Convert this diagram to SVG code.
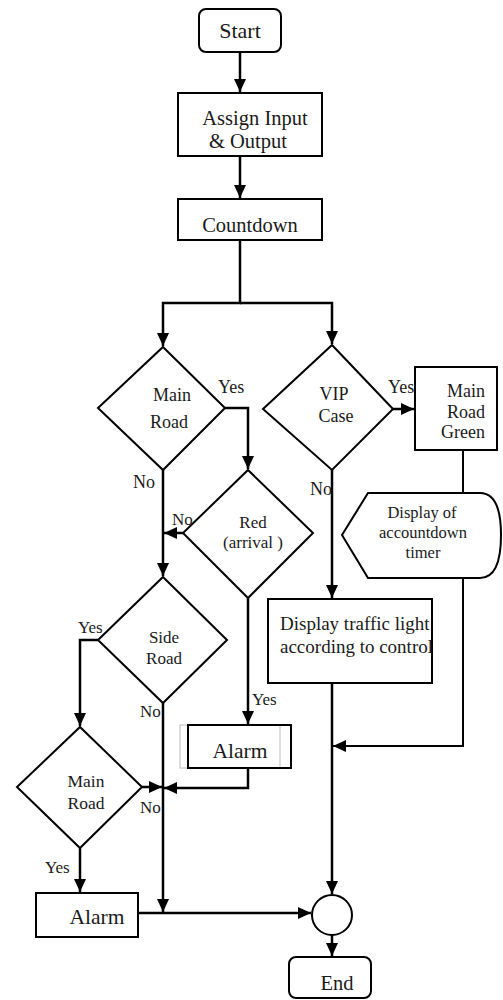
<svg xmlns="http://www.w3.org/2000/svg" width="503" height="1000" viewBox="0 0 503 1000" font-family="'Liberation Serif', Tinos, 'Times New Roman', serif">
<defs>
<marker id="ah" markerUnits="userSpaceOnUse" markerWidth="14" markerHeight="14" viewBox="0 0 14 14" refX="13" refY="7" orient="auto">
<path d="M0,1 L13,7 L0,13 Z" fill="#000"/>
</marker>
</defs>
<style>
.shape{fill:#fff;stroke:#000;stroke-width:2}
.conn{fill:none;stroke:#000;stroke-width:2.5}
.line{fill:none;stroke:#000;stroke-width:2}
text{font-family:'Liberation Serif',Tinos,'Times New Roman',serif;fill:#1a1a1a;font-size:18px}
.c{text-anchor:middle}
.e{text-anchor:end}
</style>
<rect width="503" height="1000" fill="#fff"/>
<g id="connectors">
<path class="conn" d="M240,52 V92" marker-end="url(#ah)"/>
<path class="conn" d="M240,156 V198" marker-end="url(#ah)"/>
<path class="conn" d="M240,240 V303 H163 V346" marker-end="url(#ah)"/>
<path class="conn" d="M240,303 H332 V344" marker-end="url(#ah)"/>
<path class="conn" d="M225,408 H248 V469" marker-end="url(#ah)"/>
<path class="conn" d="M163,470 V576" marker-end="url(#ah)"/>
<path class="conn" d="M183,533 H164" marker-end="url(#ah)"/>
<path class="conn" d="M248,598 V724" marker-end="url(#ah)"/>
<path class="conn" d="M98,640 H80 V726" marker-end="url(#ah)"/>
<path class="conn" d="M163,703 V912" marker-end="url(#ah)"/>
<path class="conn" d="M248,768 V788 H164" marker-end="url(#ah)"/>
<path class="conn" d="M142,787 H162" marker-end="url(#ah)"/>
<path class="conn" d="M80,848 V892" marker-end="url(#ah)"/>
<path class="conn" d="M138,913 H311" marker-end="url(#ah)"/>
<path class="conn" d="M393,409 H414" marker-end="url(#ah)"/>
<path class="conn" d="M332,470 V598" marker-end="url(#ah)"/>
<path class="conn" d="M332,683 V894" marker-end="url(#ah)"/>
<path class="line" d="M463,450 V493"/>
<path class="line" d="M463,578 V746 H333" marker-end="url(#ah)"/>
<path class="conn" d="M332,935 V956" marker-end="url(#ah)"/>
</g>
<g id="start">
<rect class="shape" x="199" y="9" width="82" height="43" rx="7"/>
<text class="c" x="240" y="38" style="font-size:22px">Start</text>
</g>
<g id="assign">
<rect class="shape" x="178" y="93" width="144" height="63"/>
<text class="c" x="255" y="125" style="font-size:20.5px">Assign Input</text>
<text class="c" x="248" y="148" style="font-size:20.5px">&amp; Output</text>
</g>
<g id="countdown">
<rect class="shape" x="178" y="199" width="144" height="41"/>
<text class="c" x="250" y="232" style="font-size:20.5px">Countdown</text>
</g>
<g id="main-road-1">
<path class="shape" d="M163,347 L225,408 L163,470 L98,408 Z"/>
<text class="c" x="172" y="401">Main</text>
<text class="c" x="169" y="428">Road</text>
<text x="218" y="393">Yes</text>
<text x="133" y="488">No</text>
</g>
<g id="vip-case">
<path class="shape" d="M332,345 L393,409 L332,470 L263,409 Z"/>
<text class="c" x="334" y="400">VIP</text>
<text class="c" x="336" y="422">Case</text>
<text x="388" y="393">Yes</text>
<text x="310" y="495">No</text>
</g>
<g id="main-road-green">
<rect class="shape" x="415" y="367" width="82" height="83"/>
<text class="e" x="485" y="397">Main</text>
<text class="e" x="485" y="418">Road</text>
<text class="e" x="485" y="438">Green</text>
</g>
<g id="display-timer">
<path class="shape" d="M368,493 H480 C497,493 501,515 501,535 C501,556 497,578 480,578 H368 L342,535 Z"/>
<text class="c" x="422" y="518" style="font-size:16.5px">Display of</text>
<text class="c" x="423" y="538" style="font-size:16.5px">accountdown</text>
<text class="c" x="423" y="558" style="font-size:16.5px">timer</text>
</g>
<g id="red-arrival">
<path class="shape" d="M248,470 L313,533 L248,598 L183,533 Z"/>
<text class="c" x="253" y="528" style="font-size:17px">Red</text>
<text class="c" x="253" y="548" style="font-size:17px">(arrival )</text>
<text x="172" y="525" style="font-size:17px">No</text>
<text x="252" y="705" style="font-size:17px">Yes</text>
</g>
<g id="display-traffic">
<rect class="shape" x="268" y="599" width="164" height="84"/>
<text x="280" y="630" style="font-size:19px">Display traffic light</text>
<text x="280" y="653" style="font-size:19px">according to control</text>
</g>
<g id="side-road">
<path class="shape" d="M163,577 L227,640 L163,703 L98,640 Z"/>
<text class="c" x="164" y="643" style="font-size:17px">Side</text>
<text class="c" x="164" y="664" style="font-size:17px">Road</text>
<text x="78" y="633" style="font-size:17px">Yes</text>
<text x="140" y="717" style="font-size:17px">No</text>
</g>
<g id="alarm-1">
<rect x="180" y="725" width="111" height="43" fill="#fff" stroke="#bbb" stroke-width="1"/>
<line x1="280" y1="725" x2="280" y2="768" stroke="#bbb" stroke-width="1"/>
<rect x="188" y="725" width="103" height="43" fill="none" stroke="#000" stroke-width="2"/>
<text class="c" x="240" y="758" style="font-size:21.5px">Alarm</text>
</g>
<g id="main-road-2">
<path class="shape" d="M80,727 L142,787 L80,848 L17,787 Z"/>
<text class="c" x="86" y="787" style="font-size:17.5px">Main</text>
<text class="c" x="86" y="809" style="font-size:17.5px">Road</text>
<text x="140" y="813" style="font-size:17px">No</text>
<text x="45" y="873" style="font-size:17px">Yes</text>
</g>
<g id="alarm-2">
<rect class="shape" x="36" y="893" width="102" height="44"/>
<text class="c" x="97" y="924" style="font-size:21.5px">Alarm</text>
</g>
<g id="join">
<circle class="shape" cx="332" cy="915" r="20"/>
</g>
<g id="end">
<rect class="shape" x="289" y="957" width="82" height="41" rx="7"/>
<text class="c" x="337" y="990" style="font-size:20.5px">End</text>
</g>
</svg>
